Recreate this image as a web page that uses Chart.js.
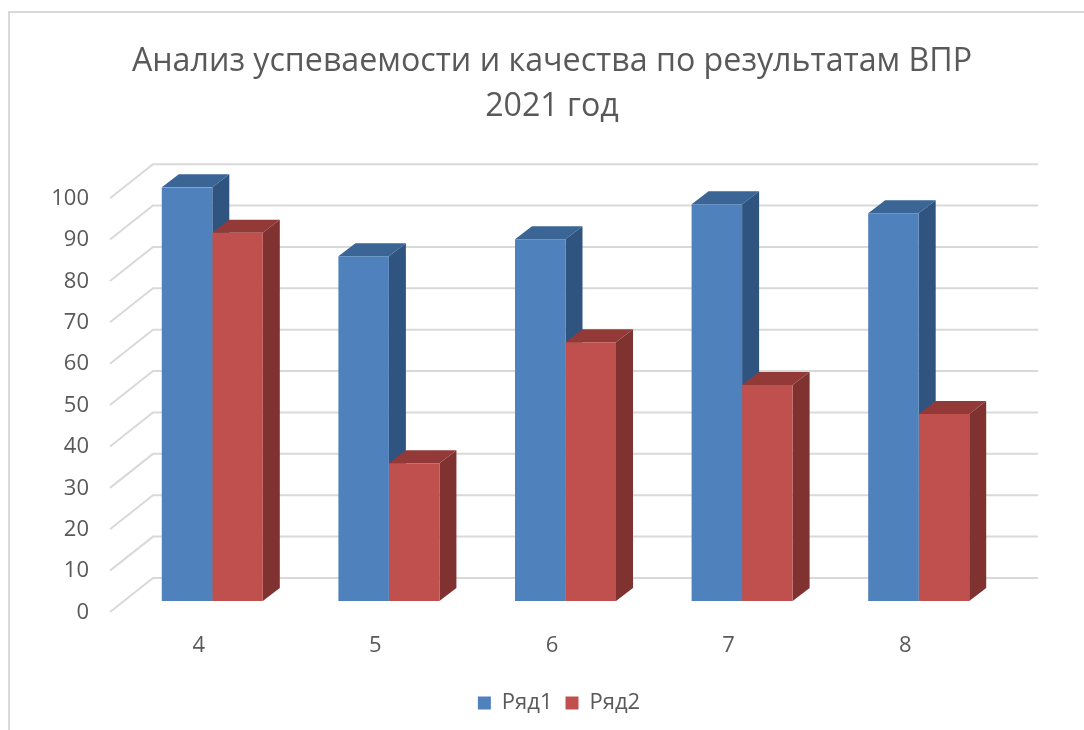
<!DOCTYPE html>
<html>
<head>
<meta charset="utf-8">
<script src="https://cdn.jsdelivr.net/npm/chart.js@4/dist/chart.umd.min.js"></script>
<style>
  html, body { margin: 0; padding: 0; background: #fff; }
  #wrap { position: relative; width: 1084px; height: 730px; overflow: hidden; }
  #frame { position: absolute; left: 8px; top: 11px; width: 1090px; height: 740px;
           border-left: 2px solid #d9d9d9; border-top: 2px solid #d9d9d9; }
  canvas { position: absolute; left: 0; top: 0; }
</style>
</head>
<body>
<div id="wrap">
  <div id="frame"></div>
  <canvas id="chart" width="1084" height="730"></canvas>
</div>
<script>
const titleLines = ['Анализ успеваемости и качества по результатам ВПР', '2021 год'];
const categories = ['4', '5', '6', '7', '8'];
const seriesNames = ['Ряд1', 'Ряд2'];
const ryad1 = [100, 83.3, 87.4, 95.9, 93.7];
const ryad2 = [89, 33.3, 62.5, 52.2, 45.2];

const frontColors = ['#4f81bd', '#c0504d'];
const topColors = ['#3a6595', '#933a38'];
const sideColors = ['#2f5480', '#7f3230'];

Chart.defaults.font.family = "'Open Sans', sans-serif";
Chart.defaults.color = '#595959';

// bar depth of the fake 3D
const DX = 17, DY = 13;

function poly(ctx, pts, color) {
  ctx.fillStyle = color;
  ctx.beginPath();
  ctx.moveTo(pts[0][0], pts[0][1]);
  pts.slice(1).forEach(p => ctx.lineTo(p[0], p[1]));
  ctx.closePath();
  ctx.fill();
}

const walls3d = {
  id: 'walls3d',
  // legend sits a little right of the title centre in the original
  afterLayout(chart) {
    chart.legend.left += 7;
    chart.legend.right += 7;
  },
  beforeDatasetsDraw(chart) {
    const ctx = chart.ctx;
    const y = chart.scales.y;

    // back wall and left wall lines
    ctx.save();
    ctx.strokeStyle = '#d9d9d9';
    ctx.lineWidth = 2;
    y.ticks.forEach(t => {
      const py = y.getPixelForValue(t.value);
      ctx.beginPath();
      ctx.moveTo(110, py + 11);
      ctx.lineTo(153, py - 23);
      ctx.lineTo(1038, py - 23);
      ctx.stroke();
    });

    // top and side faces, the library draws the front faces over them
    chart.data.datasets.forEach((ds, i) => {
      chart.getDatasetMeta(i).data.forEach(bar => {
        const l = bar.x - bar.width / 2, r = bar.x + bar.width / 2;
        poly(ctx, [[l, bar.y], [l + DX, bar.y - DY], [r + DX, bar.y - DY], [r, bar.y]], topColors[i]);
        poly(ctx, [[r, bar.y], [r + DX, bar.y - DY], [r + DX, bar.base - DY], [r, bar.base]], sideColors[i]);
      });
    });
    ctx.restore();
  }
};

new Chart(document.getElementById('chart').getContext('2d'), {
  type: 'bar',
  data: {
    labels: categories,
    datasets: [
      { label: seriesNames[0], data: ryad1, backgroundColor: frontColors[0] },
      { label: seriesNames[1], data: ryad2, backgroundColor: frontColors[1] }
    ]
  },
  options: {
    responsive: false,
    animation: false,
    categoryPercentage: 0.572,
    barPercentage: 1,
    layout: { padding: { left: 20, right: 0, top: 39, bottom: 6 } },
    plugins: {
      title: {
        display: true,
        text: titleLines,
        color: '#595959',
        font: { size: 32.2, weight: '400', lineHeight: 1.4 },
        padding: { top: 0, bottom: 58 }
      },
      legend: {
        position: 'bottom',
        labels: { boxWidth: 13, boxHeight: 13, padding: 13, font: { size: 22 }, color: '#595959' }
      },
      tooltip: { enabled: false }
    },
    scales: {
      x: {
        afterFit: s => { s.height = 78; },
        grid: { display: false },
        border: { display: false },
        ticks: { font: { size: 22 }, color: '#595959', padding: 24, labelOffset: -13.5 }
      },
      y: {
        min: 0,
        max: 100,
        afterFit: s => { s.width = 104; },
        grid: { display: false, drawTicks: false },
        border: { display: false },
        ticks: { stepSize: 10, font: { size: 22 }, color: '#595959', padding: 35, labelOffset: 11.5 }
      },
      // empty axis, only keeps the plot clear of the right side so the title stays centred
      yRight: {
        position: 'right',
        afterFit: s => { s.width = 77; },
        grid: { display: false, drawTicks: false },
        border: { display: false },
        ticks: { display: false }
      }
    }
  },
  plugins: [walls3d]
});
</script>
</body>
</html>
